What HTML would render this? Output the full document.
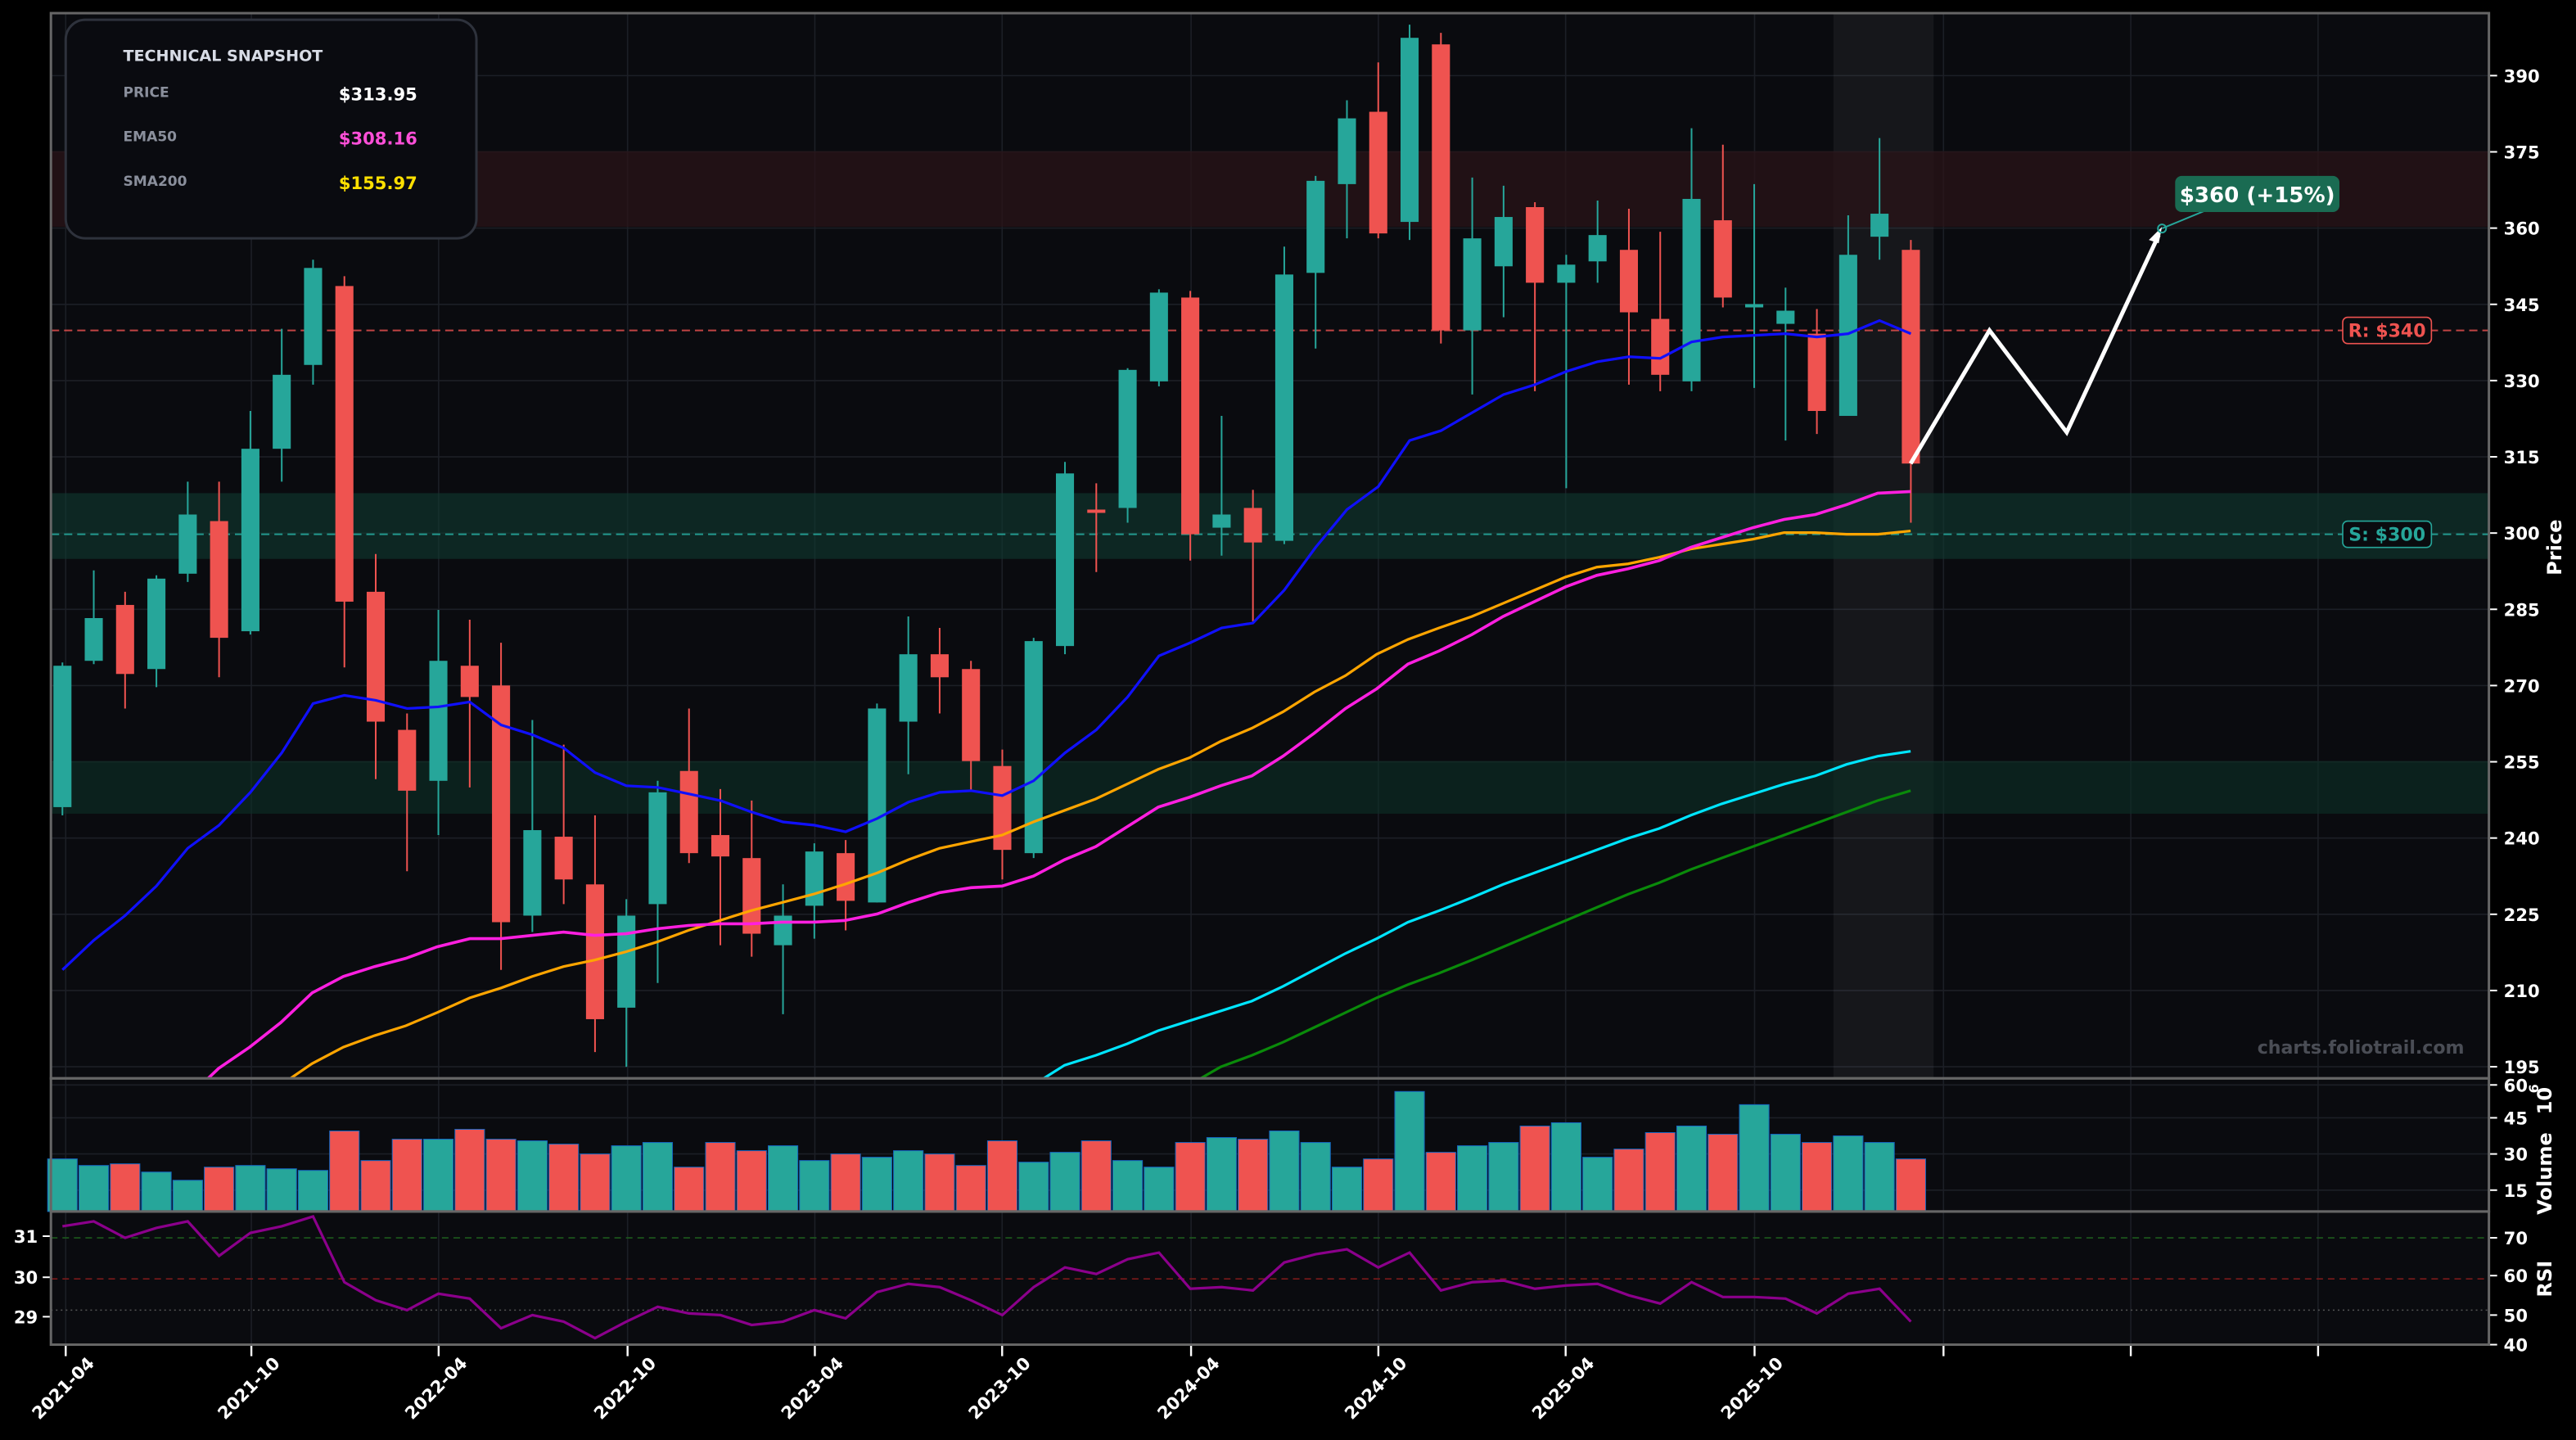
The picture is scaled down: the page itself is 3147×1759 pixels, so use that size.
<!DOCTYPE html>
<html><head><meta charset="utf-8"><style>
html,body{margin:0;padding:0;background:#000;overflow:hidden}
svg{display:block}
text{font-family:"DejaVu Sans","Liberation Sans",sans-serif}
</style></head><body>
<svg id="s" xmlns="http://www.w3.org/2000/svg" width="3147" height="1759" viewBox="0 0 1568 876" preserveAspectRatio="none">
<rect width="1568" height="876" fill="#000"/>
<rect x="31" y="8" width="1484" height="648" fill="#0a0b0f"/>
<rect x="31" y="656" width="1484" height="81" fill="#0a0b0f"/>
<rect x="31" y="737" width="1484" height="81" fill="#0a0b0f"/>
<g id="grid"></g>
<rect x="1116" y="8" width="61" height="648" fill="#ffffff" opacity="0.05"/>
<rect x="31" y="92" width="1484" height="46" fill="#2a1418" opacity="0.75"/>
<rect x="31" y="300" width="1484" height="40" fill="#0f3a30" opacity="0.6"/>
<rect x="31" y="463" width="1484" height="32" fill="#0c3026" opacity="0.6"/>
<line x1="31" y1="201" x2="1515" y2="201" stroke="#ef5350" stroke-width="1" stroke-dasharray="5,3" opacity="0.8"/>
<line x1="31" y1="325" x2="1515" y2="325" stroke="#26a69a" stroke-width="1" stroke-dasharray="5,3" opacity="0.9"/>
<g id="main" clip-path="url(#cp)"></g>
<defs><clipPath id="cp"><rect x="31" y="8" width="1484" height="648"/></clipPath></defs>
<g id="vol"></g>
<g id="rsi"></g>
<polyline points="1163,282 1211,201 1258,263 1314,143" fill="none" stroke="#fff" stroke-width="2.5"/>
<polygon points="1316,138 1308,146 1314,148" fill="#fff"/>
<circle cx="1316" cy="139" r="2.5" fill="none" stroke="#26a69a"/>
<line x1="1316" y1="139" x2="1345" y2="127" stroke="#26a69a" stroke-width="1"/>
<rect x="1324" y="107" width="100" height="22" rx="4" fill="#1a6b52"/>
<text x="1374" y="123" fill="#fff" font-size="13" font-weight="bold" text-anchor="middle">$360 (+15%)</text>
<rect x="1426" y="193" width="54" height="16" rx="3" fill="#0a0b0f" stroke="#ef5350" stroke-width="0.8"/>
<text x="1453" y="205" fill="#ef5350" font-size="11" font-weight="bold" text-anchor="middle">R: $340</text>
<rect x="1426" y="317" width="54" height="16" rx="3" fill="#0a0b0f" stroke="#26a69a" stroke-width="0.8"/>
<text x="1453" y="329" fill="#26a69a" font-size="11" font-weight="bold" text-anchor="middle">S: $300</text>
<text x="1500" y="641" fill="#4a4d55" font-size="11" font-weight="bold" text-anchor="end">charts.foliotrail.com</text>
<rect x="40" y="12" width="250" height="133" rx="12" fill="#0a0b10" stroke="#2e323c" stroke-width="1.5"/>
<text x="75" y="37" fill="#d8dce6" font-size="9.5" font-weight="bold">TECHNICAL SNAPSHOT</text>
<text x="75" y="59" fill="#8a8f9c" font-size="8.5" font-weight="bold">PRICE</text>
<text x="254" y="61" fill="#fff" font-size="10.5" font-weight="bold" text-anchor="end">$313.95</text>
<text x="75" y="86" fill="#8a8f9c" font-size="8.5" font-weight="bold">EMA50</text>
<text x="254" y="88" fill="#ff4fd8" font-size="10.5" font-weight="bold" text-anchor="end">$308.16</text>
<text x="75" y="113" fill="#8a8f9c" font-size="8.5" font-weight="bold">SMA200</text>
<text x="254" y="115" fill="#ffe000" font-size="10.5" font-weight="bold" text-anchor="end">$155.97</text>
<g id="axes"></g>
<rect x="31" y="8" width="1484" height="648" fill="none" stroke="#666" stroke-width="1.5"/>
<rect x="31" y="656" width="1484" height="81" fill="none" stroke="#666" stroke-width="1.5"/>
<rect x="31" y="737" width="1484" height="81" fill="none" stroke="#666" stroke-width="1.5"/>
<text transform="translate(1559,333) rotate(-90)" fill="#fff" font-size="12" font-weight="bold" text-anchor="middle">Price</text>
<text transform="translate(1553,739) rotate(-90)" fill="#fff" font-size="12" font-weight="bold">Volume</text>
<text transform="translate(1553,678) rotate(-90)" fill="#fff" font-size="12" font-weight="bold">10</text>
<text transform="translate(1545,665) rotate(-90)" fill="#fff" font-size="8" font-weight="bold">6</text>
<text transform="translate(1553,778) rotate(-90)" fill="#fff" font-size="12" font-weight="bold" text-anchor="middle">RSI</text>
</svg>
<script>
const NS="http://www.w3.org/2000/svg";
function el(p,t,a,txt){const e=document.createElementNS(NS,t);for(const k in a)e.setAttribute(k,a[k]);if(txt!=null)e.textContent=txt;document.getElementById(p).appendChild(e);return e;}
const X=i=>38+19.07*i;
const C=[[1,405,491,403,496],[1,376,402,347,404],[0,368,410,360,431],[1,352,407,350,418],[1,313,349,293,354],[0,317,388,293,412],[1,273,384,250,386],[1,228,273,200,293],[1,163,222,158,234],[0,174,366,168,406],[0,360,439,337,474],[0,444,481,434,530],[1,402,475,371,508],[0,405,424,377,479],[0,417,561,391,590],[1,505,557,438,567],[0,509,535,453,550],[0,538,620,496,640],[1,557,613,547,649],[1,482,550,475,598],[0,469,519,431,525],[0,508,521,480,575],[0,522,568,487,582],[1,557,575,538,617],[1,518,551,513,571],[0,519,548,511,566],[1,431,549,428,549],[1,398,439,375,471],[0,398,412,382,434],[0,407,463,402,481],[0,466,517,456,535],[1,390,519,388,522],[1,288,393,281,398],[0,310,312,294,348],[1,225,309,224,318],[1,178,232,176,235],[0,181,325,177,341],[1,313,321,253,338],[0,309,330,298,378],[1,167,329,150,331],[1,110,166,107,212],[1,72,112,61,145],[0,68,142,38,145],[1,23,135,15,146],[0,27,201,20,209],[1,145,201,108,240],[1,132,162,113,193],[0,126,172,123,238],[1,161,172,155,297],[1,143,159,122,172],[0,152,190,127,234],[0,194,228,141,238],[1,121,232,78,238],[0,134,181,88,187],[1,185,187,112,236],[1,189,197,175,268],[0,203,250,188,264],[1,155,253,131,253],[1,130,144,84,158],[0,152,282,146,318]];
const dt=[40,153,267,382,496,610,725,839,953,1068,1183,1297,1411];
dt.forEach(x=>{el('grid','line',{x1:x,y1:8,x2:x,y2:818,stroke:'#1c1f26','stroke-width':0.8});});
for(let p=195;p<=390;p+=15){const y=46+(390-p)*3.092;el('grid','line',{x1:31,y1:y,x2:1515,y2:y,stroke:'#1c1f26','stroke-width':0.8});
 el('axes','line',{x1:1515,y1:y,x2:1520,y2:y,stroke:'#fff','stroke-width':1});
 el('axes','text',{x:1524,y:y+4,fill:'#fff','font-size':10.5,'font-weight':'bold'},p);}
function line(pts,col,w){el('main','polyline',{points:pts.map(p=>p.join(',')).join(' '),fill:'none',stroke:col,'stroke-width':w});}
const blue=[590,572,557,539,516,502,482,458,428,423,426,431,430,427,441,447,455,470,478,479,483,487,494,500,502,506,498,488,482,481,484,475,458,444,424,399,391,382,379,359,333,310,296,268,262,251,240,234,226,220,217,218,208,205,204,203,205,203,195,203];
const mag=[[114,668],[133,650],[152,637],[171,622],[190,604],[209,594],[228,588],[247,583],[266,576],[286,571],[305,571],[324,569],[343,567],[362,569],[381,568],[400,565],[419,563],[438,562],[457,562],[476,561],[495,561],[514,560],[534,556],[553,549],[572,543],[591,540],[610,539],[629,533],[648,523],[667,515],[686,503],[705,491],[724,485],[743,478],[762,472],[781,460],[800,446],[819,431],[838,419],[857,404],[876,396],[896,386],[915,375],[934,366],[953,357],[972,350],[991,346],[1010,341],[1029,333],[1048,327],[1067,321],[1086,316],[1105,313],[1124,307],[1143,300],[1163,299]];
const org=[[171,660],[190,647],[209,637],[228,630],[247,624],[266,616],[286,607],[305,601],[324,594],[343,588],[362,584],[381,579],[400,573],[419,566],[438,560],[457,554],[476,549],[495,544],[514,538],[534,531],[553,523],[572,516],[591,512],[610,508],[629,500],[648,493],[667,486],[686,477],[705,468],[724,461],[743,451],[762,443],[781,433],[800,421],[819,411],[838,398],[857,389],[876,382],[896,375],[915,367],[934,359],[953,351],[972,345],[991,343],[1010,339],[1029,334],[1048,331],[1067,328],[1086,324],[1105,324],[1124,325],[1143,325],[1163,323]];
const cy=[[629,660],[648,648],[667,642],[686,635],[705,627],[724,621],[743,615],[762,609],[781,600],[800,590],[819,580],[838,571],[857,561],[876,554],[896,546],[915,538],[934,531],[953,524],[972,517],[991,510],[1010,504],[1029,496],[1048,489],[1067,483],[1086,477],[1105,472],[1124,465],[1143,460],[1163,457]];
const gr=[[724,660],[743,649],[762,642],[781,634],[800,625],[819,616],[838,607],[857,599],[876,592],[896,584],[915,576],[934,568],[953,560],[972,552],[991,544],[1010,537],[1029,529],[1048,522],[1067,515],[1086,508],[1105,501],[1124,494],[1143,487],[1163,481]];
line(gr,'#0a8a0a',1.6);line(cy,'#00e5ff',1.6);
C.forEach((c,i)=>{const x=X(i),col=c[0]?'#26a69a':'#ef5350';
 el('main','line',{x1:x,y1:c[3],x2:x,y2:c[4],stroke:col,'stroke-width':1});
 el('main','rect',{x:x-5.5,y:c[1],width:11,height:Math.max(1.2,c[2]-c[1]),fill:col});});
line(org,'#ffa500',1.6);line(mag,'#ff1fe0',1.8);
line(blue.map((y,i)=>[X(i),y]),'#1010ff',1.6);
const V=[705,709,708,713,718,710,709,711,712,688,706,693,693,687,693,694,696,702,697,695,710,695,700,697,706,702,704,700,702,709,694,707,701,694,706,710,695,692,693,688,695,710,705,664,701,697,695,685,683,704,699,689,685,690,672,690,695,691,695,705];
V.forEach((y,i)=>{el('vol','rect',{x:X(i)-9,y:y,width:18,height:737-y,fill:C[i][0]?'#26a69a':'#ef5350',stroke:'#1565c0','stroke-width':0.5});});
[[60,660],[45,680],[30,702],[15,724]].forEach(([v,y])=>{el('grid','line',{x1:31,y1:y,x2:1515,y2:y,stroke:'#1c1f26','stroke-width':0.8});
 el('axes','line',{x1:1515,y1:y,x2:1520,y2:y,stroke:'#fff'});el('axes','text',{x:1524,y:y+4,fill:'#fff','font-size':10.5,'font-weight':'bold'},v);});
el('rsi','line',{x1:31,y1:753,x2:1515,y2:753,stroke:'#1d5a1d','stroke-width':0.8,'stroke-dasharray':'4,3'});
el('rsi','line',{x1:31,y1:778,x2:1515,y2:778,stroke:'#7a1a1a','stroke-width':0.8,'stroke-dasharray':'4,3'});
el('rsi','line',{x1:31,y1:797,x2:1515,y2:797,stroke:'#555','stroke-width':0.8,'stroke-dasharray':'1,2'});
const R=[746,743,753,747,743,764,750,746,740,780,791,797,787,790,808,800,804,814,804,795,799,800,806,804,797,802,786,781,783,791,800,783,771,775,766,762,784,783,785,768,763,760,771,762,785,780,779,784,782,781,788,793,780,789,789,790,799,787,784,804];
el('rsi','polyline',{points:R.map((y,i)=>X(i)+','+y).join(' '),fill:'none',stroke:'#8b008b','stroke-width':1.6});
[[70,753],[60,776],[50,800],[40,818]].forEach(([v,y])=>{el('axes','line',{x1:1515,y1:y,x2:1520,y2:y,stroke:'#fff'});el('axes','text',{x:1524,y:y+4,fill:'#fff','font-size':10.5,'font-weight':'bold'},v);});
[[31,752],[30,777],[29,801]].forEach(([v,y])=>{el('axes','line',{x1:26,y1:y,x2:31,y2:y,stroke:'#fff'});el('axes','text',{x:23,y:y+4,fill:'#fff','font-size':10.5,'font-weight':'bold','text-anchor':'end'},v);});
const lab=['2021-04','2021-10','2022-04','2022-10','2023-04','2023-10','2024-04','2024-10','2025-04','2025-10'];
dt.forEach((x,i)=>{el('axes','line',{x1:x,y1:818,x2:x,y2:825,stroke:'#fff','stroke-width':1.2});
 if(lab[i])el('axes','text',{transform:`translate(${x+18},${830}) rotate(-45)`,fill:'#fff','font-size':10.5,'font-weight':'bold','text-anchor':'end'},lab[i]);});
</script>
</body></html>
